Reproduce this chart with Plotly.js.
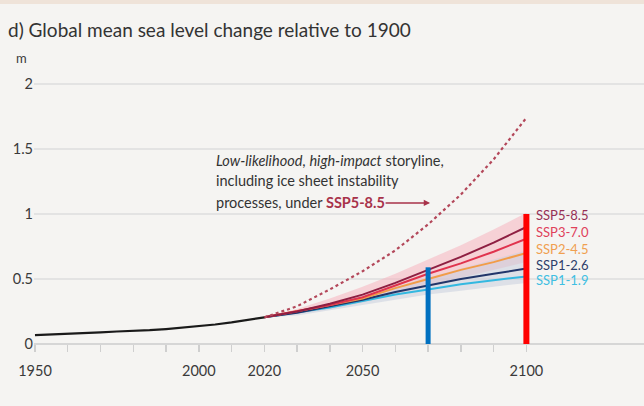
<!DOCTYPE html>
<html>
<head>
<meta charset="utf-8">
<script src="https://cdn.plot.ly/plotly-3.0.1.min.js"></script>
<style>
  html, body { margin:0; padding:0; background:#f5f4f2; }
  #topband { position:absolute; left:0; top:0; width:644px; height:4px; background:#efe3d9; z-index:5; }
  #chart { width:644px; height:406px; }
</style>
</head>
<body>
<div id="topband"></div>
<div id="chart"></div>
<script>
// Observed global mean sea level (m, relative to 1900)
const obsYears = [1950,1955,1960,1965,1970,1975,1980,1985,1990,1995,2000,2005,2010,2015,2020];
const obsVals  = [0.068,0.072,0.078,0.083,0.089,0.096,0.100,0.106,0.115,0.125,0.137,0.150,0.166,0.184,0.205];

// Projection years
const projYears = [2020,2030,2040,2050,2060,2070,2080,2090,2100];
const ssp585 = [0.205,0.25,0.31,0.38,0.47,0.57,0.67,0.78,0.90];
const ssp370 = [0.205,0.25,0.30,0.36,0.45,0.54,0.62,0.71,0.81];
const ssp245 = [0.205,0.25,0.30,0.35,0.43,0.50,0.57,0.63,0.70];
const ssp126 = [0.205,0.24,0.29,0.34,0.40,0.45,0.50,0.54,0.58];
const ssp119 = [0.205,0.24,0.28,0.33,0.38,0.42,0.46,0.49,0.52];

// Likely ranges
const ssp585Upper = [0.205,0.27,0.35,0.44,0.54,0.65,0.76,0.88,1.01];
const ssp585Lower = [0.205,0.23,0.27,0.32,0.38,0.45,0.51,0.57,0.63];
const ssp126Upper = [0.205,0.25,0.31,0.37,0.44,0.51,0.58,0.65,0.72];
const ssp126Lower = [0.205,0.22,0.26,0.30,0.34,0.38,0.41,0.44,0.47];

// Low-likelihood, high-impact storyline (SSP5-8.5)
const lowLikVals = [0.205,0.29,0.42,0.56,0.72,0.92,1.15,1.42,1.74];

// Highlight bars
const blueBarYear = 2070, blueBarTop = 0.59;
const redBarYear = 2100, redBarTop = 1.00;

// Axis ticks
const xTickVals = [1950,1960,1970,1980,1990,2000,2010,2020,2030,2040,2050,2060,2070,2080,2090,2100];
const xTickText = ['1950','','','','','2000','','2020','','','2050','','','','','2100'];
const yTickVals = [0,0.5,1,1.5,2];
const yTickText = ['0','0.5','1','1.5','2'];

const sspNames  = ['SSP5-8.5','SSP3-7.0','SSP2-4.5','SSP1-2.6','SSP1-1.9'];
const sspSeries = [ssp585, ssp370, ssp245, ssp126, ssp119];
const sspColors = ['#8e1f42','#e0334e','#f29c48','#22366a','#33b8e0'];
const labelColors = ['#963055','#e0405a','#f0a050','#2d3e6a','#40bfe2'];
const labelY    = [0.99,0.86,0.73,0.605,0.49];

const traces = [];
function band(upper, lower, color) {
  traces.push({x: projYears, y: lower, mode:'lines', line:{width:0}, hoverinfo:'skip', showlegend:false});
  traces.push({x: projYears, y: upper, mode:'lines', line:{width:0}, fill:'tonexty', fillcolor:color, hoverinfo:'skip', showlegend:false});
}
band(ssp585Upper, ssp585Lower, 'rgba(245,180,192,0.55)');
band(ssp126Upper, ssp126Lower, 'rgba(200,208,222,0.55)');

for (let i = sspSeries.length - 1; i >= 0; i--) {
  traces.push({x: projYears, y: sspSeries[i], mode:'lines', name: sspNames[i],
    line:{color: sspColors[i], width:2}, showlegend:false});
}
traces.push({x: projYears, y: lowLikVals, mode:'lines', line:{color:'#b3475a', width:2.2, dash:'dot'}, showlegend:false});
traces.push({x: obsYears, y: obsVals, mode:'lines', line:{color:'#1a1a1a', width:2.2}, showlegend:false});
traces.push({x: [blueBarYear, blueBarYear], y: [0, blueBarTop], mode:'lines', line:{color:'#0070c0', width:5}, showlegend:false});
traces.push({x: [redBarYear, redBarYear], y: [0, redBarTop], mode:'lines', line:{color:'#ff0000', width:6}, showlegend:false});

const annotations = [
  {xref:'paper', yref:'paper', x:-0.02, y:1.0, xanchor:'center', yanchor:'middle', text:'m', showarrow:false,
   font:{family:'Lato', size:13, color:'#3a3a3a'}},
  {x:2004.6, y:1.415, xanchor:'left', yanchor:'middle', showarrow:false,
   text:'<i>Low-likelihood</i>, <i>high-impact</i> storyline,', font:{family:'Lato', size:14.5, color:'#333333'}},
  {x:2004.6, y:1.255, xanchor:'left', yanchor:'middle', showarrow:false,
   text:'including ice sheet instability', font:{family:'Lato', size:14.5, color:'#333333'}},
  {x:2004.6, y:1.09, xanchor:'left', yanchor:'middle', showarrow:false,
   text:'processes, under <span style="color:#a8324a"><b>SSP5-8.5</b></span>', font:{family:'Lato', size:14.5, color:'#333333'}},
  {x:2070.6, y:1.085, ax:-46, ay:0, axref:'pixel', ayref:'pixel', showarrow:true, text:'',
   arrowhead:2, arrowsize:0.9, arrowwidth:1.4, arrowcolor:'#a8324a'}
];
for (let i = 0; i < sspNames.length; i++) {
  annotations.push({x: 2102.2, y: labelY[i], xanchor:'left', yanchor:'middle', showarrow:false,
    text: sspNames[i], font:{family:'Lato', size:13, color: labelColors[i]}});
}

const layout = {
  width:644, height:406,
  paper_bgcolor:'#f5f4f2', plot_bgcolor:'#f5f4f2',
  margin:{l:34, r:0, t:58, b:62},
  title:{text:'d) Global mean sea level change relative to 1900', xref:'container', yref:'container',
    x:8/644, xanchor:'left', y:1-30/406, yanchor:'middle', font:{family:'Lato', size:19, color:'#333333'}},
  xaxis:{range:[1949.7, 2135.9], tickvals:xTickVals, ticktext:xTickText, ticks:'outside', ticklen:7,
    tickcolor:'#cfcfcf', tickwidth:1.5, showgrid:false, zeroline:false, showline:false, ticklabelstandoff:7,
    tickfont:{family:'Lato', size:14.5, color:'#3a3a3a'}, fixedrange:true},
  yaxis:{range:[0, 2.2], tickvals:yTickVals, ticktext:yTickText, showgrid:true, gridcolor:'#e3e3e3', gridwidth:1.5,
    zeroline:true, zerolinecolor:'#d6d6d6', zerolinewidth:2, showline:false, ticks:'',
    tickfont:{family:'Lato', size:14.5, color:'#3a3a3a'}, fixedrange:true},
  annotations: annotations,
  showlegend:false
};
Plotly.newPlot('chart', traces, layout, {displayModeBar:false, staticPlot:true});
</script>
</body>
</html>
